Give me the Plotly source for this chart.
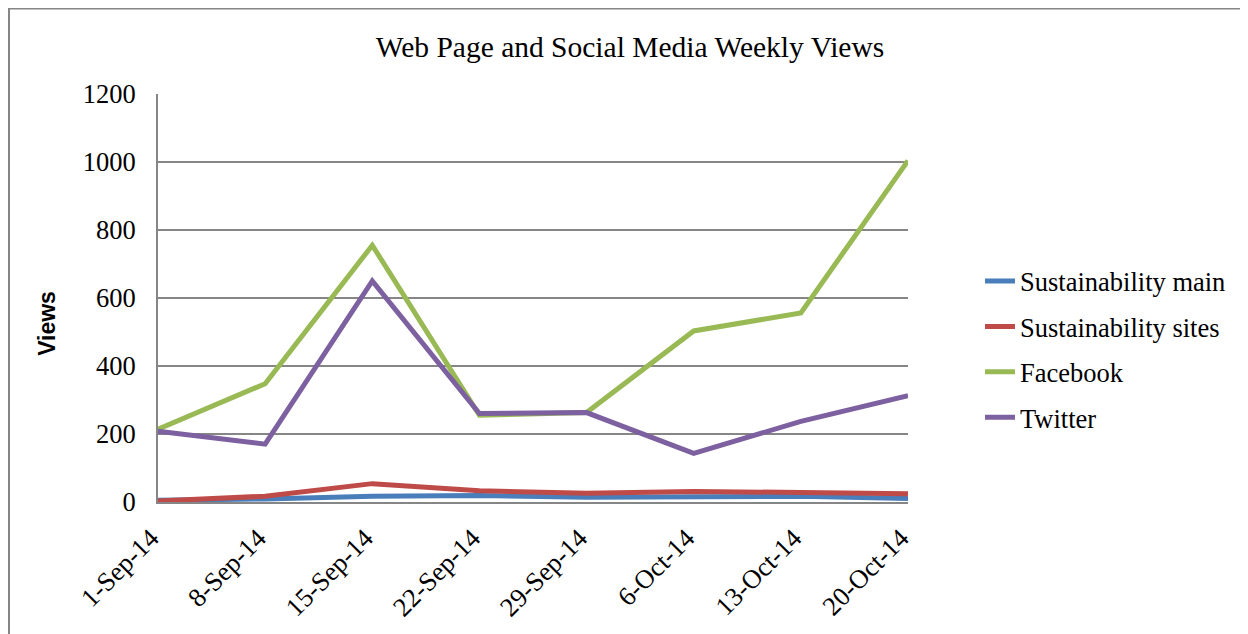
import plotly.graph_objects as go

weeks = ["1-Sep-14", "8-Sep-14", "15-Sep-14", "22-Sep-14", "29-Sep-14", "6-Oct-14", "13-Oct-14", "20-Oct-14"]
sust_main = [5, 9, 17, 19, 14, 17, 17, 10]
sust_sites = [3, 17, 54, 33, 26, 31, 28, 24]
facebook = [214, 348, 755, 255, 263, 503, 556, 1004]
twitter = [208, 170, 650, 260, 263, 143, 237, 313]

series = [
    ("Sustainability main", sust_main, "#4A7EBB"),
    ("Sustainability sites", sust_sites, "#BE4B48"),
    ("Facebook", facebook, "#98B954"),
    ("Twitter", twitter, "#7D60A0"),
]

# page body has an 8px margin, so the figure is 8px smaller and offset
W, H = 1240, 626
L, R, T, B = 150, 900, 86, 496

def px(x):
    return (x - L) / (R - L)

def py(y):
    return (B - y) / (B - T)

fig = go.Figure()
for name, vals, col in series:
    fig.add_trace(go.Scatter(
        x=weeks, y=vals, mode="lines", name=name,
        line=dict(color=col, width=5),
        legendgroup=name,
    ))

serif = "Liberation Serif, Times New Roman, serif"
fig.update_layout(
    width=W, height=H,
    margin=dict(l=L, r=W - R, t=T, b=H - B, pad=0),
    paper_bgcolor="white", plot_bgcolor="white",
    font=dict(family=serif, color="black", size=26),
    title=dict(text="Web Page and Social Media Weekly Views",
               x=622 / W, xanchor="center", y=1 - 39 / H, yanchor="middle",
               font=dict(family=serif, size=29.5, color="black")),
    showlegend=True,
    legend=dict(x=px(972), xanchor="left",
                y=py(342.5), yanchor="middle",
                font=dict(family=serif, size=26.5, color="black"),
                traceorder="grouped", tracegroupgap=8,
                bgcolor="rgba(0,0,0,0)"),
    xaxis=dict(type="category", range=[0, 7], showgrid=False,
               showline=True, linecolor="#868686", linewidth=2,
               ticks="", tickangle=-45, ticklabelstandoff=8,
               ticklabelshift=-7,
               tickfont=dict(family=serif, size=26.5, color="black"),
               zeroline=False),
    yaxis=dict(range=[0, 1200], dtick=200, showgrid=True,
               gridcolor="#868686", gridwidth=1.5,
               showline=True, linecolor="#868686", linewidth=2,
               ticks="", ticklabelstandoff=15,
               tickfont=dict(family=serif, size=26.5, color="black"),
               zeroline=False),
)

fig.add_annotation(text="<b>Views</b>", xref="paper", yref="paper",
                   x=px(39), y=py(317), xanchor="center", yanchor="middle",
                   textangle=-90, showarrow=False,
                   font=dict(family="Liberation Sans, Arial, sans-serif", size=23, color="black"))

# outer chart border
fig.add_shape(type="rect", xref="paper", yref="paper",
              x0=px(1), x1=px(W + 20),
              y0=py(H + 20), y1=py(0),
              line=dict(color="#868686", width=2), fillcolor="rgba(0,0,0,0)", layer="below")

fig.write_html("out.html", config={"displayModeBar": False})
